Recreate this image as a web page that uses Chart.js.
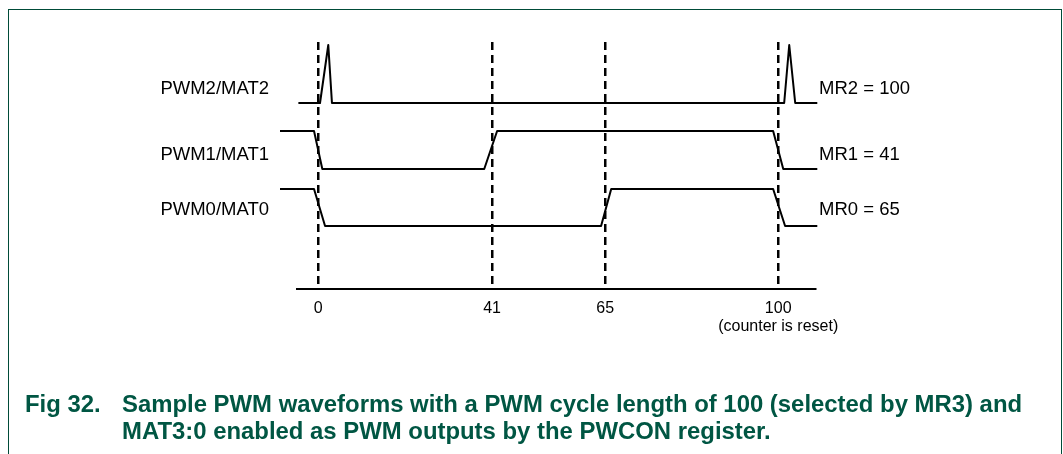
<!DOCTYPE html>
<html>
<head>
<meta charset="utf-8">
<script src="https://cdn.jsdelivr.net/npm/chart.js@4.4.1/dist/chart.umd.min.js"></script>
<style>
  html, body { margin: 0; padding: 0; background: #fff; }
  body { width: 1063px; height: 454px; overflow: hidden; position: relative; font-family: "Liberation Sans", Arial, sans-serif; }
  #frame { position: absolute; left: 8px; top: 9px; width: 1054px; height: 470px; border: 1px solid #004b38; box-sizing: border-box; }
  #wrap { position: absolute; left: 0; top: 0; width: 1063px; height: 454px; }
  #caption { position: absolute; left: 25px; top: 390px; width: 1030px; color: #005643; font-weight: bold; font-size: 23.9px; line-height: 27px; display: flex; white-space: nowrap; }
  #caption .num { width: 97px; flex: none; }
</style>
</head>
<body>
<div id="frame"></div>
<div id="wrap"><canvas id="pwmChart"></canvas></div>
<div id="caption">
  <span class="num">Fig 32.</span>
  <span>Sample PWM waveforms with a PWM cycle length of 100 (selected by MR3) and<br>MAT3:0 enabled as PWM outputs by the PWCON register.</span>
</div>
<script>
const signalNames = ['PWM2/MAT2', 'PWM1/MAT1', 'PWM0/MAT0'];
const matchNames = ['MR2 = 100', 'MR1 = 41', 'MR0 = 65'];

// corners of each trace, time in counter ticks as drawn, level 0 = low, 1 = high
const pwm2Times = [-4.3, 0.4, 2.2, 3.0, 101.3, 102.4, 103.7, 108.5];
const pwm2Levels = [0, 0, 1, 0, 0, 1, 0, 0];
const pwm1Times = [-8.3, -0.9, 0.9, 36.1, 38.9, 98.9, 101.1, 108.5];
const pwm1Levels = [1, 1, 0, 0, 1, 1, 0, 0];
const pwm0Times = [-8.3, -0.9, 1.5, 61.5, 63.7, 98.9, 101.5, 108.5];
const pwm0Levels = [1, 1, 0, 0, 1, 1, 0, 0];

// counter axis: labels and where they sit on the drawn time axis
const tickLabels = ['0', '41', '65', '100'];
const tickNotes = ['', '', '', '(counter is reset)'];
const tickPositions = [0, 37.8, 62.4, 100];

// vertical layout of the rows (y scale is in pixels above the counter axis)
const rowBase = [186, 120, 63];
const rowSwing = [58, 38, 37];
const rowLabelY = [200, 134, 79];

const traces = [
    { times: pwm2Times, levels: pwm2Levels },
    { times: pwm1Times, levels: pwm1Levels },
    { times: pwm0Times, levels: pwm0Levels }
];

const sideLabels = {
    id: 'sideLabels',
    afterDatasetsDraw(chart) {
        const { ctx, chartArea, scales: { y } } = chart;
        ctx.save();
        ctx.font = '18.5px "Liberation Sans", Arial, sans-serif';
        ctx.fillStyle = '#000';
        ctx.textBaseline = 'middle';
        signalNames.forEach(function (name, i) {
            const py = y.getPixelForValue(rowLabelY[i]);
            ctx.textAlign = 'right';
            ctx.fillText(name, chartArea.left - 28, py);
            ctx.textAlign = 'left';
            ctx.fillText(matchNames[i], chartArea.right + 4, py);
        });
        ctx.restore();
    }
};

const ctx = document.getElementById('pwmChart').getContext('2d');
new Chart(ctx, {
    type: 'scatter',
    data: {
        datasets: traces.map(function (t, i) {
            return {
                label: signalNames[i],
                data: t.times.map(function (x, k) {
                    return { x: x, y: rowBase[i] + rowSwing[i] * t.levels[k] };
                }),
                showLine: true,
                borderColor: '#000',
                borderWidth: 2,
                borderJoinStyle: 'round',
                pointRadius: 0,
                tension: 0,
                clip: false
            };
        })
    },
    options: {
        responsive: true,
        maintainAspectRatio: false,
        animation: false,
        layout: { padding: { left: 297, right: 248, top: 42, bottom: 105 } },
        plugins: { legend: { display: false }, tooltip: { enabled: false } },
        scales: {
            x: {
                type: 'linear',
                min: -4.6,
                max: 108,
                afterBuildTicks: function (scale) {
                    scale.ticks = tickPositions.map(function (v) { return { value: v }; });
                },
                afterFit: function (scale) { scale.height = 60; },
                ticks: {
                    autoSkip: false,
                    maxRotation: 0,
                    padding: 11,
                    color: '#000',
                    font: { family: '"Liberation Sans", Arial, sans-serif', size: 16, lineHeight: 1.1 },
                    callback: function (value, index) {
                        return tickNotes[index] ? [tickLabels[index], tickNotes[index]] : tickLabels[index];
                    }
                },
                grid: { display: true, drawTicks: false, color: '#000', lineWidth: 2.5 },
                border: { display: true, color: '#000', width: 2, dash: [8, 5] }
            },
            y: { display: false, min: 0, max: 247 }
        }
    },
    plugins: [sideLabels]
});
</script>
</body>
</html>
